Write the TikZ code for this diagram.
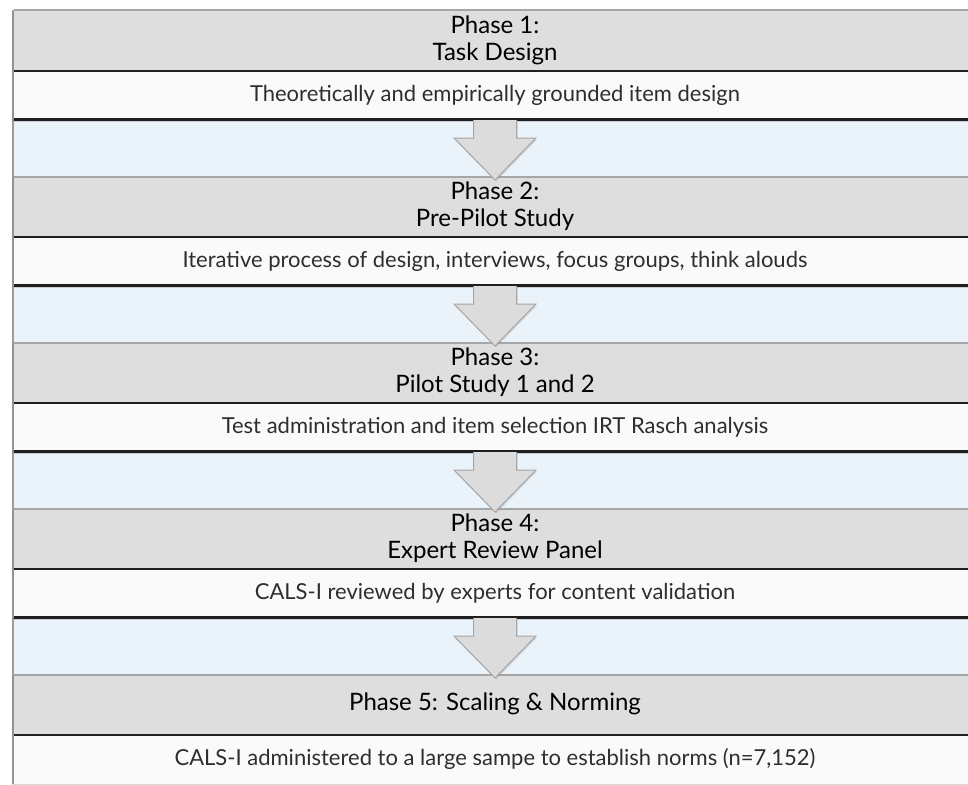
\documentclass[tikz,border=0pt]{standalone}
\usepackage{fontspec}
\setmainfont{Lato}
\usepackage{tikz}
\usetikzlibrary{positioning,calc,shadows,backgrounds}
\definecolor{hdgray}{HTML}{DEDEDE}
\definecolor{dsclight}{HTML}{FAFAFA}
\definecolor{bandblue}{HTML}{EBF3FA}
\definecolor{rulegray}{HTML}{9C9C9C}
\definecolor{arrowgray}{HTML}{DCDCDC}
\definecolor{arrowline}{HTML}{A6A6A6}

\begin{document}
\begin{tikzpicture}[x=1pt,y=1pt,
  node distance=56pt,
  band/.style={minimum width=962pt,inner sep=0pt,outer sep=0pt,align=center,
    drop shadow={shadow xshift=-2.5pt,shadow yshift=-2pt,opacity=.3}},
  head/.style={band,fill=hdgray,minimum height=60pt,font=\fontsize{24}{27}\selectfont,
    path picture={\draw[line width=3pt,color=black!35] (path picture bounding box.north west) -- (path picture bounding box.north east);}},
  lastdesc/.style={band,fill=dsclight,minimum height=50pt,font=\fontsize{22}{26}\selectfont,text=black!82,
    path picture={\draw[line width=4pt,color=black!88] (path picture bounding box.north west) -- (path picture bounding box.north east);}},
  desc/.style={lastdesc,
    path picture={\draw[line width=4pt,color=black!88] (path picture bounding box.north west) -- (path picture bounding box.north east)
      (path picture bounding box.south west) -- (path picture bounding box.south east);}},
  blockarrow/.style={fill=arrowgray,draw=arrowline,line width=1pt,line join=miter,
    drop shadow={shadow xshift=1pt,shadow yshift=-1.5pt,opacity=.25}}
]
  \useasboundingbox (0,0) rectangle (968,-784);

  \node[head] (head1) at (495,-40) {Phase 1:\\Task Design};
  \node[desc,below=0pt of head1] (desc1) {Theoretically and empirically grounded item design};
  \node[head,below=of desc1] (head2) {Phase 2:\\Pre-Pilot Study};
  \node[desc,below=0pt of head2] (desc2) {Iterative process of design, interviews, focus groups, think alouds};
  \node[head,below=of desc2] (head3) {Phase 3:\\Pilot Study 1 and 2};
  \node[desc,below=0pt of head3] (desc3) {Test administration and item selection IRT Rasch analysis};
  \node[head,below=of desc3] (head4) {Phase 4:\\Expert Review Panel};
  \node[desc,below=0pt of head4] (desc4) {CALS-I reviewed by experts for content validation};
  \node[head,below=of desc4] (head5) {Phase 5: Scaling \& Norming};
  \node[lastdesc,below=0pt of head5] (desc5) {CALS-I administered to a large sampe to establish norms (n=7,152)};

  % light blue strip and left frame behind the phases
  \begin{scope}[on background layer]
    \fill[bandblue] (head1.north west) rectangle (desc5.south east);
    \draw[rulegray,line width=2pt] ([xshift=-1pt]head1.north west) -- ([xshift=-1pt]desc5.south west);
  \end{scope}

  % block arrows between phases
  \draw[blockarrow] ($(desc1.south)+(-21.5,0)$) -- ++(0,-18) -- ++(-19.5,0) -- ($(head2.north)+(0,-4)$) -- ($(desc1.south)+(41,-18)$) -- ++(-19.5,0) -- ++(0,18);
  \draw[blockarrow] ($(desc2.south)+(-21.5,0)$) -- ++(0,-18) -- ++(-19.5,0) -- ($(head3.north)+(0,-4)$) -- ($(desc2.south)+(41,-18)$) -- ++(-19.5,0) -- ++(0,18);
  \draw[blockarrow] ($(desc3.south)+(-21.5,0)$) -- ++(0,-18) -- ++(-19.5,0) -- ($(head4.north)+(0,-4)$) -- ($(desc3.south)+(41,-18)$) -- ++(-19.5,0) -- ++(0,18);
  \draw[blockarrow] ($(desc4.south)+(-21.5,0)$) -- ++(0,-18) -- ++(-19.5,0) -- ($(head5.north)+(0,-4)$) -- ($(desc4.south)+(41,-18)$) -- ++(-19.5,0) -- ++(0,18);
\end{tikzpicture}
\end{document}
